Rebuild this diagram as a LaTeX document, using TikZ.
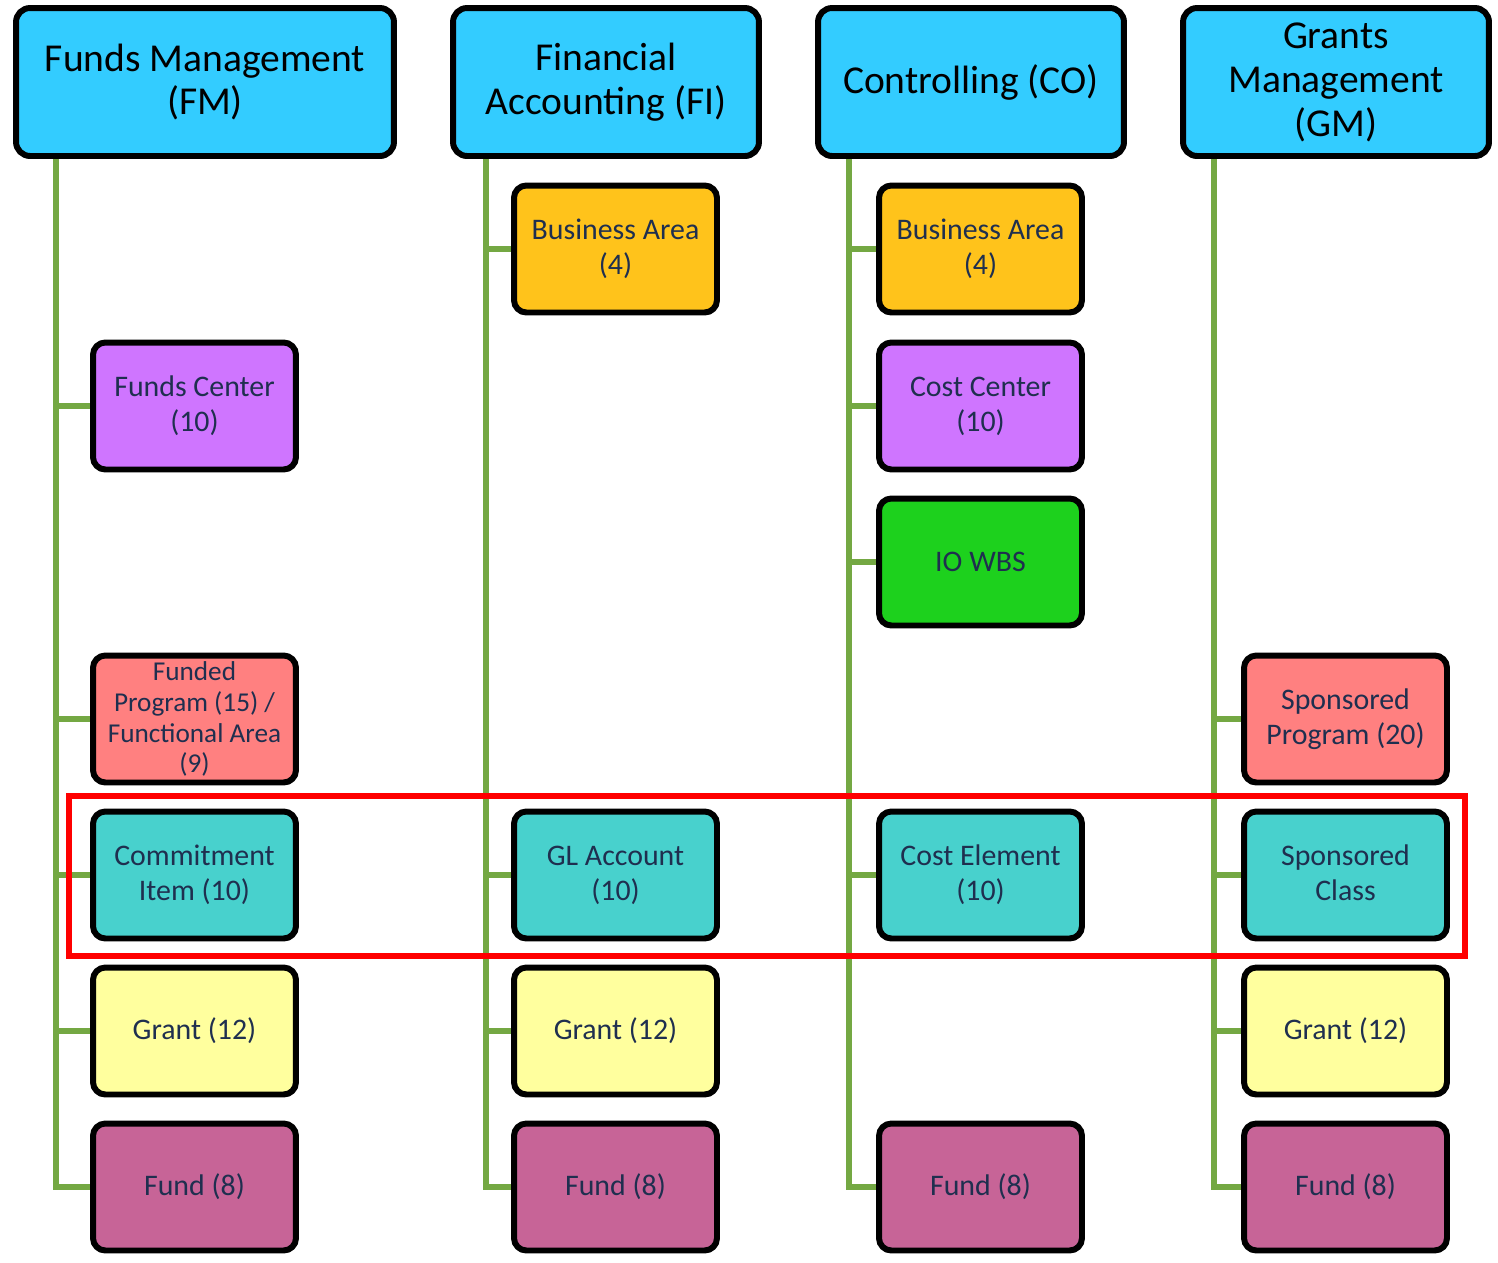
\documentclass[tikz,border=0pt]{standalone}
\usepackage{fontspec}
\setmainfont{Carlito}
\usetikzlibrary{backgrounds}

\definecolor{headcyan}{HTML}{33CCFF}
\definecolor{areaorange}{HTML}{FFC31B}
\definecolor{centerpurple}{HTML}{CF75FF}
\definecolor{iogreen}{HTML}{1DD11D}
\definecolor{progred}{HTML}{FF8080}
\definecolor{itemteal}{HTML}{48D1CD}
\definecolor{grantyellow}{HTML}{FFFF9E}
\definecolor{fundpink}{HTML}{C76497}
\definecolor{stemgreen}{HTML}{74A843}
\definecolor{labelnavy}{HTML}{1F2F4F}

\tikzset{
  module/.style={draw, line width=3.4pt, rounded corners=8pt, fill=headcyan,
    minimum width=6.12cm, minimum height=2.96cm, inner sep=2pt, align=center,
    font=\fontsize{22.5}{25}\selectfont},
  entity/.style={draw, line width=3.4pt, rounded corners=7pt,
    minimum width=4.06cm, minimum height=2.54cm, inner sep=2pt, align=center,
    text=labelnavy, font=\fontsize{17}{20}\selectfont},
  stem/.style={draw=stemgreen, line width=3.4pt},
  highlight/.style={draw=red, line width=3.6pt}
}

\begin{document}
\begin{tikzpicture}[x=0.02cm, y=-0.02cm]
          \useasboundingbox (0,0) rectangle (1498,1262);

          % module headers
          \node[module, minimum width=7.56cm] (fm) at (205,82) {Funds Management\\(FM)};
          \node[module] (fi) at (606,82) {Financial\\Accounting (FI)};
          \node[module] (co) at (971,82) {Controlling (CO)};
          \node[module] (gm) at (1336,82) {Grants\\Management\\(GM)};

          % FM column
          \node[entity, fill=centerpurple] (fmfc) at (194.5,406) {Funds Center\\(10)};
          \node[entity, fill=progred, inner sep=0.5pt, font=\fontsize{15.5}{17.6}\selectfont] (fmfp) at (194.5,719) {Funded\\Program (15) /\\Functional Area\\(9)};
          \node[entity, fill=itemteal] (fmci) at (194.5,875) {Commitment\\Item (10)};
          \node[entity, fill=grantyellow] (fmgr) at (194.5,1031) {Grant (12)};
          \node[entity, fill=fundpink] (fmfd) at (194.5,1187) {Fund (8)};

          % FI column
          \node[entity, fill=areaorange] (fiba) at (615.5,249) {Business Area\\(4)};
          \node[entity, fill=itemteal] (figl) at (615.5,875) {GL Account\\(10)};
          \node[entity, fill=grantyellow] (figr) at (615.5,1031) {Grant (12)};
          \node[entity, fill=fundpink] (fifd) at (615.5,1187) {Fund (8)};

          % CO column
          \node[entity, fill=areaorange] (coba) at (980.5,249) {Business Area\\(4)};
          \node[entity, fill=centerpurple] (cocc) at (980.5,406) {Cost Center\\(10)};
          \node[entity, fill=iogreen] (coio) at (980.5,562) {IO WBS};
          \node[entity, fill=itemteal] (coce) at (980.5,875) {Cost Element\\(10)};
          \node[entity, fill=fundpink] (cofd) at (980.5,1187) {Fund (8)};

          % GM column
          \node[entity, fill=progred] (gmsp) at (1345.5,719) {Sponsored\\Program (20)};
          \node[entity, fill=itemteal] (gmsc) at (1345.5,875) {Sponsored\\Class\vphantom{(}};
          \node[entity, fill=grantyellow] (gmgr) at (1345.5,1031) {Grant (12)};
          \node[entity, fill=fundpink] (gmfd) at (1345.5,1187) {Fund (8)};

          \coordinate (fmroot) at ([xshift=0.86cm]fm.south west);
          \coordinate (firoot) at ([xshift=0.72cm]fi.south west);
          \coordinate (coroot) at ([xshift=0.68cm]co.south west);
          \coordinate (gmroot) at ([xshift=0.68cm]gm.south west);

          \begin{scope}[on background layer]
            \draw[stem] (fmroot) |- (fmfd.west);
            \draw[stem] (fmroot |- fmfc.west) -- (fmfc.west);
            \draw[stem] (fmroot |- fmfp.west) -- (fmfp.west);
            \draw[stem] (fmroot |- fmci.west) -- (fmci.west);
            \draw[stem] (fmroot |- fmgr.west) -- (fmgr.west);

            \draw[stem] (firoot) |- (fifd.west);
            \draw[stem] (firoot |- fiba.west) -- (fiba.west);
            \draw[stem] (firoot |- figl.west) -- (figl.west);
            \draw[stem] (firoot |- figr.west) -- (figr.west);

            \draw[stem] (coroot) |- (cofd.west);
            \draw[stem] (coroot |- coba.west) -- (coba.west);
            \draw[stem] (coroot |- cocc.west) -- (cocc.west);
            \draw[stem] (coroot |- coio.west) -- (coio.west);
            \draw[stem] (coroot |- coce.west) -- (coce.west);

            \draw[stem] (gmroot) |- (gmfd.west);
            \draw[stem] (gmroot |- gmsp.west) -- (gmsp.west);
            \draw[stem] (gmroot |- gmsc.west) -- (gmsc.west);
            \draw[stem] (gmroot |- gmgr.west) -- (gmgr.west);

            % highlighted row
            \draw[highlight] (69,796) rectangle (1465,956);
          \end{scope}
        \end{tikzpicture}
\end{document}
